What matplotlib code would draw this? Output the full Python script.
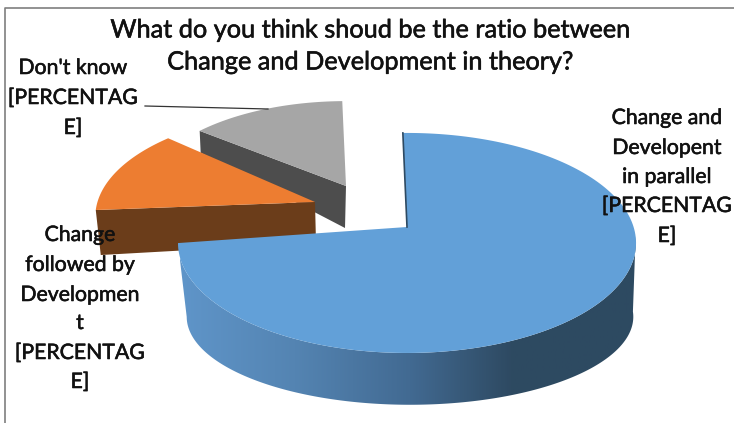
import numpy as np
import matplotlib
matplotlib.use("Agg")
import matplotlib.pyplot as plt
import matplotlib.patheffects as pe
from matplotlib.colors import LinearSegmentedColormap
from matplotlib.patches import Polygon

plt.rcParams["font.family"] = ["Lato", "DejaVu Sans"]

title_lines = ["What do you think shoud be the ratio between",
               "Change and Development in theory?"]
categories = ["Change and Developent in parallel", "Change followed by Development", "Don't know"]
shares = [73, 13, 14]
label_parallel = ["Change and", "Developent", "in parallel", "[PERCENTAG", "E]"]
label_followed = ["Change", "followed by", "Developmen", "t", "[PERCENTAG", "E]"]
label_dontknow = ["Don't know", "[PERCENTAG", "E]"]

# pie geometry, in pixels of the picture
AX, BY, K = 226.6, 107.7, 0.145
START = -1.2
ORANGE_TILT = 4
BLUE_APEX, ORANGE_APEX, GRAY_APEX = (407, 227), (315, 202), (346, 186)


def project(apex, t, r=1.0, xscale=1.0, yscale=1.0, drop=0.0, shift=0.0):
    """disc point at clockwise angle t (deg from top) -> picture pixels, with perspective"""
    t = np.radians(t)
    x = r * np.sin(t)
    y = r * np.cos(t)
    w = 1 + K * y
    return np.column_stack([apex[0] + shift + xscale * AX * x / w,
                            apex[1] + drop - yscale * BY * y / w])


def top_face(apex, t0, t1, r=1.0):
    arc = project(apex, np.linspace(t0, t1, 200), r)
    return np.vstack([[apex], arc])


edges = START + np.cumsum([0] + shares) * 3.6
t_blue = (edges[0], edges[1])
t_orange = (edges[1] + ORANGE_TILT, edges[2] + ORANGE_TILT)
t_gray = (edges[2], edges[3])

fig = plt.figure(figsize=(7.34, 4.23), dpi=100)
ax = fig.add_axes([0, 0, 1, 1])
ax.set_xlim(0, 734)
ax.set_ylim(423, 0)
ax.axis("off")

# picture frame
ax.plot([5, 5, 734], [423, 8, 8], color="#7f7f7f", lw=1.2)

# gray slice
corner = project(GRAY_APEX, np.array([t_gray[0]]), 0.89)[0]
ax.add_patch(Polygon([GRAY_APEX, corner, corner + (1, 22), (GRAY_APEX[0] - 1, GRAY_APEX[1] + 42)],
                     fc="#4d4d4d", ec="none", zorder=2))
ax.add_patch(Polygon(top_face(GRAY_APEX, t_gray[0], t_gray[1], 0.89), fc="#a6a6a6", ec="none", zorder=3))

# orange slice
corner = project(ORANGE_APEX, np.array([t_orange[0]]), 0.96)[0]
ax.add_patch(Polygon([ORANGE_APEX, corner, corner + (5, 45), (ORANGE_APEX[0] + 1, ORANGE_APEX[1] + 41)],
                     fc="#6b3d1a", ec="none", zorder=4))
ax.add_patch(Polygon(top_face(ORANGE_APEX, t_orange[0], t_orange[1], 0.96), fc="#ed7d31", ec="none", zorder=5))

# blue slice, side with a left to right shade
ts = np.linspace(95, t_blue[1], 300)
side = np.vstack([project(BLUE_APEX, ts),
                  project(BLUE_APEX, ts[::-1], xscale=0.975, yscale=0.8, drop=77, shift=3)])
side_patch = Polygon(side, fc="none", ec="none", zorder=6)
ax.add_patch(side_patch)
shade = LinearSegmentedColormap.from_list("side", [(0, "#5f95c9"), (0.25, "#5484b2"), (0.5, "#426a92"),
                                                   (0.72, "#2e4a62"), (1, "#2d4a61")])
img = ax.imshow(np.linspace(0, 1, 256)[None, :], cmap=shade, extent=(180, 640, 423, 0), aspect="auto", zorder=6)
img.set_clip_path(side_patch)
ax.set_xlim(0, 734)
ax.set_ylim(423, 0)

ax.add_patch(Polygon(top_face(BLUE_APEX, t_blue[0], t_blue[1]), fc="#62a0d8", ec="none", zorder=7))
edge = project(BLUE_APEX, np.array([t_blue[0]]))[0]
ax.plot([edge[0], BLUE_APEX[0]], [edge[1], BLUE_APEX[1]], color="#2e4a62", lw=1.2, zorder=8)

# leader line of the gray slice
ax.plot([145, 268], [106, 109], color="#333333", lw=0.9, zorder=9)

# texts, a thin stroke makes them as heavy as in the blurry original
heavy = [pe.withStroke(linewidth=0.4, foreground="#111111")]
for line, y in zip(title_lines, [30, 62]):
    ax.text(370, y, line, ha="center", va="center", fontsize=18.2, color="#111111", zorder=10, path_effects=heavy)
for line, y in zip(label_dontknow, [68, 98, 128]):
    ax.text(73, y, line, ha="center", va="center", fontsize=15.3, color="#111111", zorder=10, path_effects=heavy)
for line, y in zip(label_followed, [235, 265, 295, 323, 353, 382]):
    ax.text(80, y, line, ha="center", va="center", fontsize=15.3, color="#111111", zorder=10, path_effects=heavy)
for line, y in zip(label_parallel, [118, 148, 177, 206, 236]):
    ax.text(667, y, line, ha="center", va="center", fontsize=15.3, color="#111111", zorder=10, path_effects=heavy)

fig.savefig("out.png", dpi=100)
